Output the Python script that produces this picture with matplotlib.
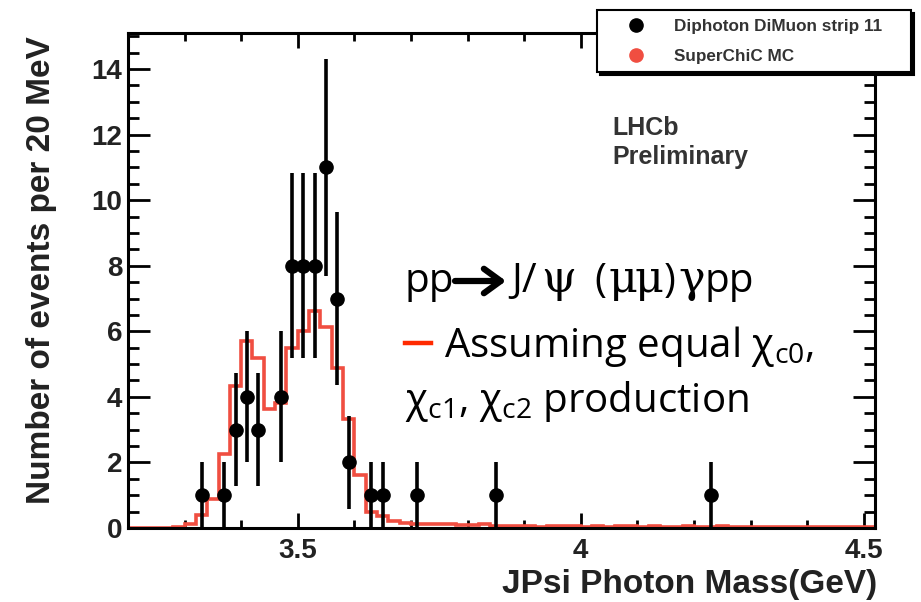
import numpy as np
import matplotlib.pyplot as plt
from matplotlib.lines import Line2D

# LHCb diphoton dimuon stripping, J/psi + photon mass in 20 MeV bins
mass = [3.33, 3.37, 3.39, 3.41, 3.43, 3.47, 3.49, 3.51, 3.53, 3.55,
        3.57, 3.59, 3.63, 3.65, 3.71, 3.85, 4.23]
counts = [1, 1, 3, 4, 3, 4, 8, 8, 8, 11, 7, 2, 1, 1, 1, 1, 1]

# SuperChiC MC (equal chi_c0, chi_c1, chi_c2), bins 3.20 - 4.52 GeV
mc_edges = np.round(np.arange(3.20, 4.5201, 0.02), 2)
mc_values = [0.0, 0.0, 0.0, 0.01, 0.02, 0.13, 0.41, 0.89, 2.26, 4.33,
             5.70, 5.19, 3.62, 3.80, 5.49, 6.02, 6.63, 6.12, 4.88, 3.31,
             1.63, 0.50, 0.36, 0.22, 0.16, 0.13, 0.12, 0.11, 0.12, 0.10,
             0.10, 0.11, 0.06, 0.05, 0.06, 0.05, 0.04, 0.05, 0.06, 0.05,
             0.04, 0.05, 0.04, 0.06, 0.05, 0.04, 0.05, 0.04, 0.03, 0.05,
             0.04, 0.04, 0.05, 0.03, 0.04, 0.04, 0.03, 0.04, 0.03, 0.04,
             0.03, 0.03, 0.04, 0.03, 0.03, 0.03]

mc_red = "#f04e41"
root_font = "Liberation Sans"

plt.rcParams["mathtext.fontset"] = "custom"
plt.rcParams["mathtext.rm"] = "Open Sans"
plt.rcParams["mathtext.it"] = "Open Sans"
plt.rcParams["mathtext.default"] = "regular"

fig = plt.figure(figsize=(9.21, 6.02), dpi=100)
ax = fig.add_axes([128 / 921, 74 / 602, 747 / 921, 495 / 602])

ax.stairs(mc_values, mc_edges, color=mc_red, lw=2.6, zorder=2,
          label="SuperChiC MC")
ax.errorbar(mass, counts, yerr=np.sqrt(counts), fmt="o", color="black",
            ms=9.5, elinewidth=2.6, capsize=0, zorder=3)

ax.set_xlim(3.2, 4.52)
ax.set_ylim(0, 15.1)
ax.set_xticks([3.5, 4.0, 4.5], ["3.5", "4", "4.5"])
ax.set_xticks(np.arange(3.3, 4.5, 0.1), minor=True)
ax.set_yticks(range(0, 15, 2))
ax.set_yticks(np.arange(0, 15.1, 0.5), minor=True)

for s in ax.spines.values():
    s.set_linewidth(2.2)
ax.tick_params(which="both", direction="in", top=True, right=True, width=2)
ax.tick_params(axis="x", which="major", length=11, pad=7)
ax.tick_params(axis="x", which="minor", length=5.5)
ax.tick_params(axis="y", which="major", length=16, pad=4)
ax.tick_params(axis="y", which="minor", length=8)
for lab in ax.get_xticklabels() + ax.get_yticklabels():
    lab.set_fontfamily(root_font)
    lab.set_fontweight("bold")
    lab.set_fontsize(20)
    lab.set_color("#222222")

fig.text(877 / 921, 1 - 584 / 602, "JPsi Photon Mass(GeV)", ha="right",
         va="center", fontfamily=root_font, fontweight="bold", fontsize=24,
         color="#222222")
fig.text(42 / 921, 1 - 270 / 602, "Number of events per 20 MeV",
         rotation=90, ha="center", va="center", fontfamily=root_font,
         fontweight="bold", fontsize=24, color="#222222")

fig.text(612 / 921, 1 - 128 / 602, "LHCb", ha="left", va="center",
         fontfamily=root_font, fontweight="bold", fontsize=18, color="#333333")
fig.text(612 / 921, 1 - 157 / 602, "Preliminary", ha="left", va="center",
         fontfamily=root_font, fontweight="bold", fontsize=18, color="#333333")

# legend box sitting over the top-right corner of the frame
handles = [
    Line2D([], [], ls="none", marker="o", ms=9.5, color="black"),
    Line2D([], [], ls="none", marker="o", ms=9.5, color=mc_red),
]
leg = fig.legend(handles, ["Diphoton DiMuon strip 11", "SuperChiC MC"],
                 loc="upper left", mode="expand",
                 bbox_to_anchor=(597 / 921, 1 - 72 / 602, 314 / 921, 62 / 602),
                 frameon=True, fancybox=False,
                 shadow={"color": "black", "alpha": 1},
                 borderpad=0.5, labelspacing=0.9, handletextpad=0.4,
                 borderaxespad=0, handlelength=3.6,
                 prop={"family": root_font, "weight": "bold", "size": 12.3})
leg.get_frame().set_edgecolor("black")
leg.get_frame().set_linewidth(1.5)
for t in leg.get_texts():
    t.set_color("#333333")

# annotation text: pp -> J/psi (mu mu) gamma pp
slide = dict(family=["Open Sans", "DejaVu Sans"], fontsize=29, color="black",
             ha="left", va="baseline")
greek = dict(slide, family=["DejaVu Serif"], fontsize=32)
y1 = 1 - 292 / 602
fig.text(405 / 921, y1, "pp", **slide)
fig.add_artist(plt.Annotation(
    "", xy=(506 / 921, 1 - 281 / 602), xytext=(455 / 921, 1 - 281 / 602),
    xycoords="figure fraction",
    arrowprops=dict(arrowstyle="->,head_length=0.55,head_width=0.4",
                    lw=4.5, color="black", mutation_scale=22,
                    shrinkA=0, shrinkB=0)))
fig.text(511 / 921, y1, "J/", **slide)
fig.text(541 / 921, y1, "\u03c8", **greek)
fig.text(594 / 921, y1, "(", **slide)
fig.text(608 / 921, y1, "\u03bc", **greek)
fig.text(635 / 921, y1, "\u03bc", **greek)
fig.text(664 / 921, y1, ")", **slide)
fig.text(678 / 921, y1, "\u03b3", **greek)
fig.text(704 / 921, y1, "pp", **slide)

fig.add_artist(Line2D([405 / 921, 431 / 921], [1 - 343 / 602] * 2,
                      color="#ff2a00", lw=3.2))
fig.text(444 / 921, 1 - 357 / 602, r"Assuming equal $\chi_{c0}$,", **slide)
fig.text(405 / 921, 1 - 412 / 602, r"$\chi_{c1}$, $\chi_{c2}$ production", **slide)

fig.savefig("out.png", dpi=100)
